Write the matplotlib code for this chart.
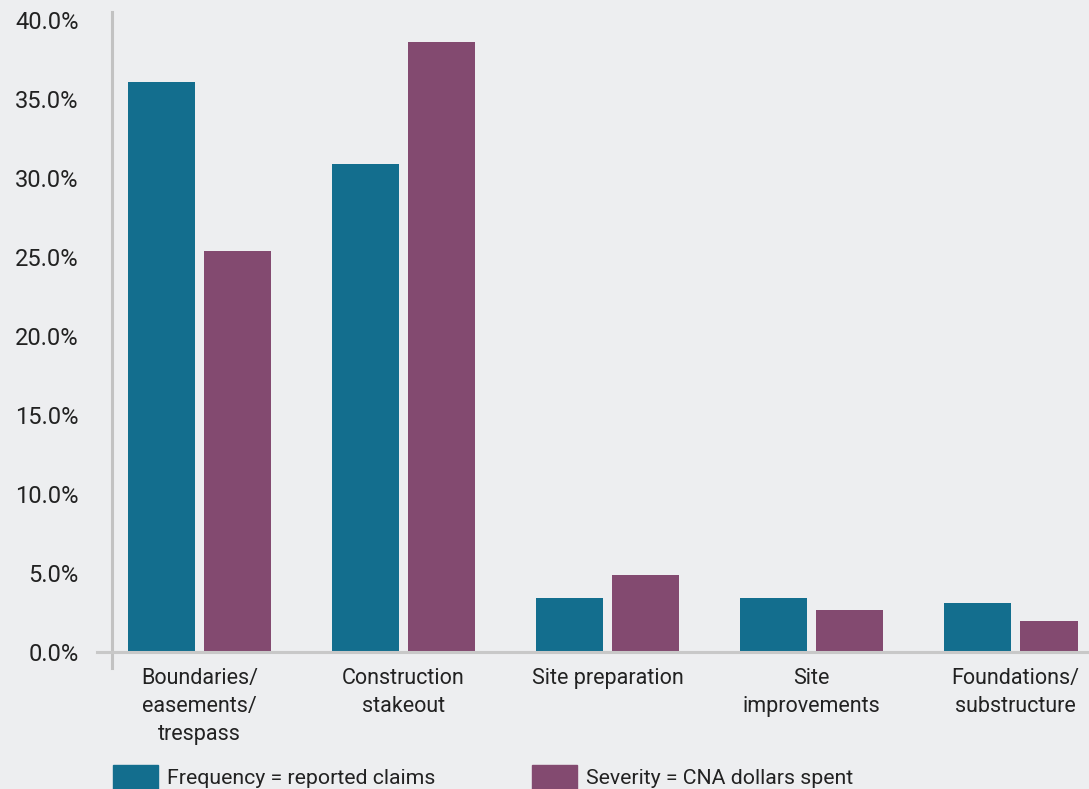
import matplotlib
matplotlib.use('Agg')
import matplotlib.pyplot as plt
import numpy as np
from matplotlib.patches import Patch

categories = ['Boundaries/\neasements/\ntrespass', 'Construction\nstakeout',
              'Site preparation', 'Site\nimprovements', 'Foundations/\nsubstructure']
frequency = [36.1, 30.9, 3.4, 3.4, 3.1]
severity = [25.4, 38.6, 4.9, 2.7, 2.0]
series_names = ['Frequency = reported claims', 'Severity = CNA dollars spent']
yticks = [0, 5, 10, 15, 20, 25, 30, 35, 40]

bg = '#edeef0'
c_freq = '#136e8e'
c_sev = '#834a70'
txt = '#222222'

plt.rcParams['font.family'] = ['Roboto', 'DejaVu Sans']

fig = plt.figure(figsize=(10.89, 7.89), dpi=100, facecolor=bg)
ax = fig.add_axes([112 / 1089, 121 / 789, (1078 - 112) / 1089, 656 / 789])
ax.set_facecolor(bg)

x = np.arange(len(categories))
w = 0.328
off = 0.186
ax.bar(x - off, frequency, w, color=c_freq, zorder=2)
ax.bar(x + off, severity, w, color=c_sev, zorder=2)

ax.set_xlim(-0.429, 4.306)
ax.set_ylim(-1.0, 40.5)

for s in ['top', 'right', 'bottom']:
    ax.spines[s].set_visible(False)
ax.spines['left'].set_color('#c2c2c2')
ax.spines['left'].set_linewidth(2.2)

# baseline at zero, running past the left spine
ax.plot([-0.0155, 1.012], [0, 0], transform=ax.get_yaxis_transform(),
        color='#c8c8c8', lw=2.2, clip_on=False, zorder=3)

ax.set_yticks(yticks)
ax.set_yticklabels(['%.1f%%' % v for v in yticks], fontsize=17, color=txt)
ax.tick_params(axis='y', length=0, pad=24)

ax.set_xticks(x)
ax.set_xticklabels(categories, fontsize=15.5, color=txt, linespacing=1.45, va='top')
ax.tick_params(axis='x', length=0, pad=0)

for name, col, x0 in [(series_names[0], c_freq, 113), (series_names[1], c_sev, 532)]:
    fig.legend(handles=[Patch(color=col)], labels=[name],
               loc='upper left', bbox_to_anchor=(x0 / 1089, 24 / 789),
               frameon=False, fontsize=15.3, handlelength=2.1, handleheight=1.4,
               handletextpad=0.42, borderpad=0, borderaxespad=0, labelcolor=txt)

fig.savefig('out.png', dpi=100, facecolor=bg)
